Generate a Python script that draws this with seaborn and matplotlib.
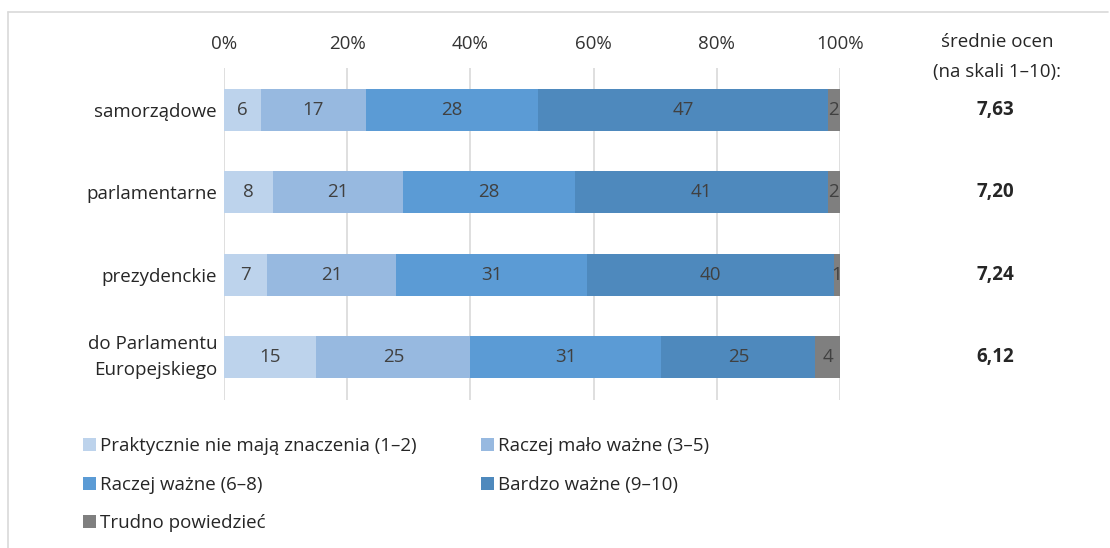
import numpy as np
import pandas as pd
import matplotlib.pyplot as plt
import seaborn as sns
from matplotlib.lines import Line2D
from matplotlib.patches import Patch

# data (percent shares per election type)
elections = ['samorządowe', 'parlamentarne', 'prezydenckie', 'do Parlamentu\nEuropejskiego']
series_names = ['Praktycznie nie mają znaczenia (1–2)', 'Raczej mało ważne (3–5)',
                'Raczej ważne (6–8)', 'Bardzo ważne (9–10)', 'Trudno powiedzieć']
praktycznie = [6, 8, 7, 15]
malo_wazne = [17, 21, 21, 25]
wazne = [28, 28, 31, 31]
bardzo_wazne = [47, 41, 40, 25]
trudno = [2, 2, 1, 4]
srednie = ['7,63', '7,20', '7,24', '6,12']
tick_vals = [0, 20, 40, 60, 80, 100]

colors = ['#BDD3EC', '#97B9E0', '#5B9BD5', '#4E89BD', '#7F7F7F']
FS = 13.5

sns.set_theme(style="white")
plt.rcParams['font.family'] = ['Open Sans', 'DejaVu Sans']

series = [praktycznie, malo_wazne, wazne, bardzo_wazne, trudno]
cum = np.cumsum(np.array(series), axis=0)

fig = plt.figure(figsize=(11.1, 5.48), dpi=100)
ax = fig.add_axes([224 / 1110, 1 - 400 / 548, 616 / 1110, 332 / 548])

# stacked bars: draw cumulative totals back to front
for i in range(len(series) - 1, -1, -1):
    df = pd.DataFrame({'typ': elections, 'cum': cum[i]})
    sns.barplot(data=df, x='cum', y='typ', color=colors[i], width=0.51,
                saturation=1, linewidth=0, ax=ax, zorder=2)

# segment labels in the middle of each piece
for i, vals in enumerate(series):
    for j, v in enumerate(vals):
        ax.text(cum[i][j] - v / 2, j, str(v), ha='center', va='center',
                fontsize=FS, color='#404040', zorder=3)

ax.set_xlim(0, 100)
ax.set_ylim(3.52, -0.51)
ax.set_xticks(tick_vals)
ax.set_xticklabels([f'{t}%' for t in tick_vals])
ax.xaxis.tick_top()
ax.set_yticks(range(len(elections)))
ax.set_yticklabels(elections, ha='right', multialignment='right', linespacing=1.6)
ax.tick_params(axis='x', length=0, pad=11, labelsize=FS, labelcolor='#333333')
ax.tick_params(axis='y', length=0, pad=5, labelsize=FS, labelcolor='#262626')
ax.get_yticklabels()[-1].set_verticalalignment('center')
ax.set_xlabel('')
ax.set_ylabel('')
ax.grid(axis='x', color='#D9D9D9', linewidth=1.2, zorder=0)
ax.set_axisbelow(True)
for s in ax.spines.values():
    s.set_visible(False)

# average ratings column on the right
fig.text(997 / 1110, 1 - 42 / 548, 'średnie ocen', ha='center', va='center',
         fontsize=FS, color='#262626')
fig.text(997 / 1110, 1 - 72 / 548, '(na skali 1–10):', ha='center', va='center',
         fontsize=FS, color='#262626')
trans = ax.get_yaxis_transform()
for j, s in enumerate(srednie):
    ax.text(1.252, j, s, transform=trans, ha='center', va='center',
            fontsize=FS, fontweight='bold', color='#262626', clip_on=False)

# legend, filled column-wise
handles = [Patch(facecolor=c, edgecolor='none') for c in colors]
order = [0, 2, 4, 1, 3]
fig.legend([handles[k] for k in order], [series_names[k] for k in order],
           ncol=2, loc='upper left', bbox_to_anchor=(74 / 1110, 1 - 428 / 548),
           frameon=False, fontsize=FS, borderpad=0,
           handlelength=0.69, handleheight=0.69, handletextpad=0.21,
           columnspacing=3.4, labelspacing=1.09, labelcolor='#262626')

# light frame lines at top and left
fig.add_artist(Line2D([8 / 1110, 1108 / 1110], [1 - 12 / 548, 1 - 12 / 548],
                      color='#D9D9D9', linewidth=1.2))
fig.add_artist(Line2D([8 / 1110, 8 / 1110], [1 - 12 / 548, 0],
                      color='#D9D9D9', linewidth=1.2))

fig.savefig('out.png', dpi=100)
